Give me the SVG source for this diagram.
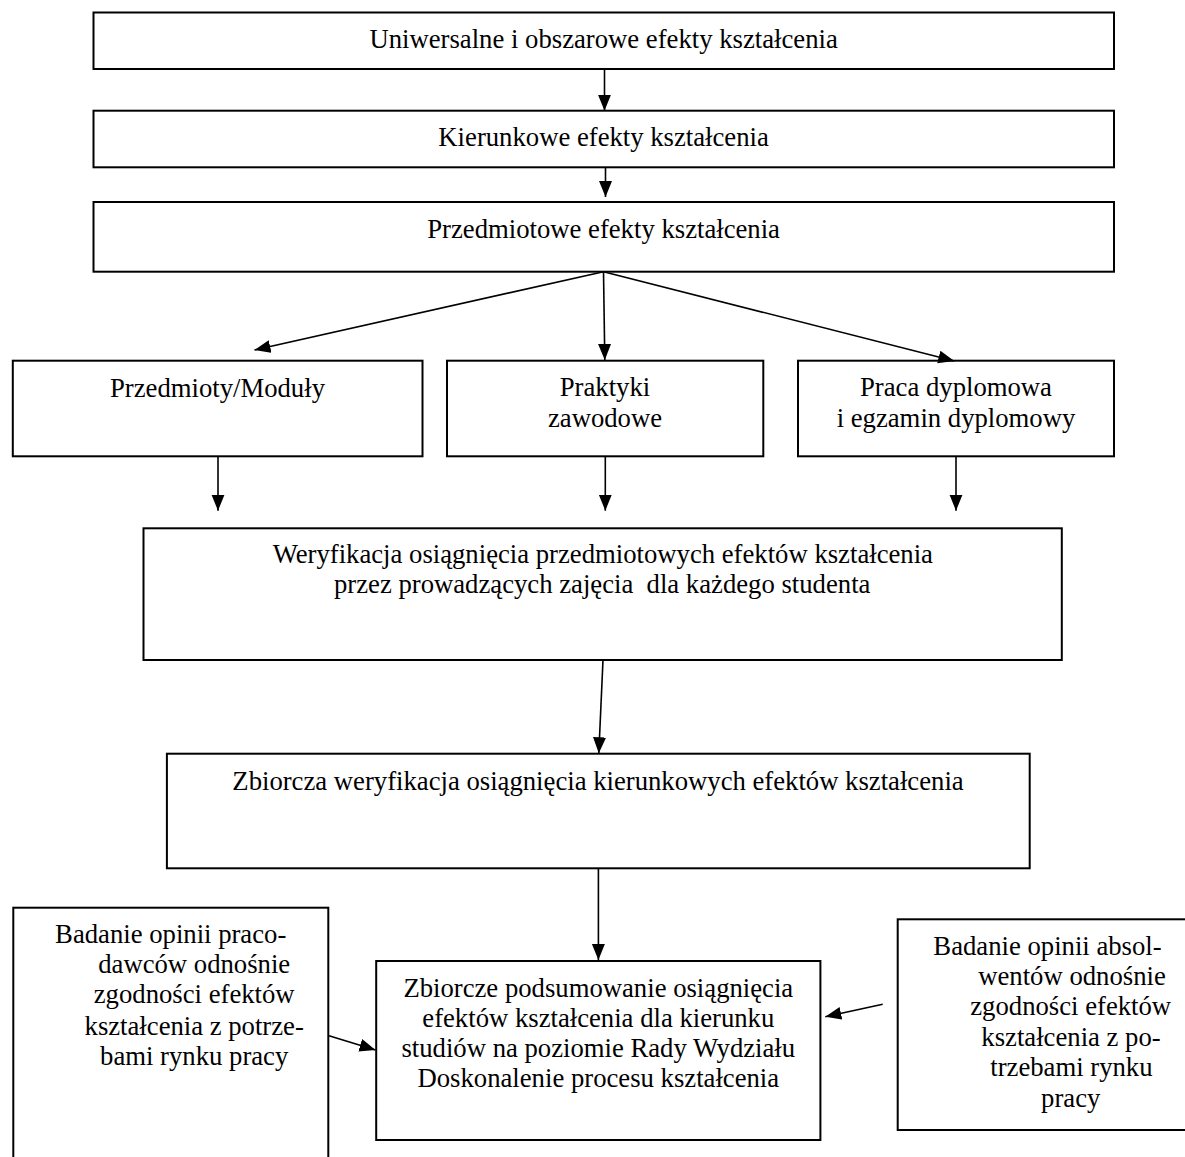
<svg xmlns="http://www.w3.org/2000/svg" width="1185" height="1157" viewBox="0 0 1185 1157">
<style>
.box{fill:#fff;stroke:#000;stroke-width:2}
.t{font-family:"Liberation Serif","Times New Roman",serif;font-size:26.7px;fill:#000;text-anchor:middle}
.c{stroke:#000;stroke-width:1.6;fill:none;marker-end:url(#ah)}
</style>
<defs>
<marker id="ah" markerUnits="userSpaceOnUse" markerWidth="18" markerHeight="14" refX="16" refY="6.5" orient="auto">
<path d="M0,0 L16,6.5 L0,13 z" fill="#000"/>
</marker>
</defs>
<rect width="1185" height="1157" fill="#fff"/>
<g id="n1"><rect class="box" x="93.5" y="12.5" width="1020.5" height="56.5"/><text class="t" x="603.6" y="48.3">Uniwersalne i obszarowe efekty kształcenia</text></g>
<g id="n2"><rect class="box" x="93.5" y="110.7" width="1020.5" height="56.6"/><text class="t" x="603.6" y="146">Kierunkowe efekty kształcenia</text></g>
<g id="n3"><rect class="box" x="93.5" y="202" width="1020.5" height="69.7"/><text class="t" x="603.6" y="238">Przedmiotowe efekty kształcenia</text></g>
<g id="n4"><rect class="box" x="12.8" y="360.7" width="409.7" height="95.6"/><text class="t" x="217.5" y="396.7">Przedmioty/Moduły</text></g>
<g id="n5"><rect class="box" x="447" y="360.7" width="316.3" height="95.6"/><text class="t" x="605" y="395.7">Praktyki</text><text class="t" x="605" y="426.7">zawodowe</text></g>
<g id="n6"><rect class="box" x="798" y="360.7" width="316" height="95.6"/><text class="t" x="956" y="395.7">Praca dyplomowa</text><text class="t" x="956" y="426.7">i egzamin dyplomowy</text></g>
<g id="n7"><rect class="box" x="143.5" y="528.3" width="918.3" height="131.7"/><text class="t" x="602.8" y="563.3">Weryfikacja osiągnięcia przedmiotowych efektów kształcenia</text><text class="t" x="602.2" y="593.3" xml:space="preserve">przez prowadzących zajęcia  dla każdego studenta</text></g>
<g id="n8"><rect class="box" x="166.9" y="753.7" width="862.8" height="114.6"/><text class="t" x="598" y="790">Zbiorcza weryfikacja osiągnięcia kierunkowych efektów kształcenia</text></g>
<g id="n9"><rect class="box" x="376.2" y="961" width="444.2" height="179"/><text class="t" x="598.3" y="996.7">Zbiorcze podsumowanie osiągnięcia</text><text class="t" x="598.3" y="1026.7">efektów kształcenia dla kierunku</text><text class="t" x="598.3" y="1056.7">studiów na poziomie Rady Wydziału</text><text class="t" x="598.3" y="1087.3">Doskonalenie procesu kształcenia</text></g>
<g id="n10"><rect class="box" x="13.3" y="907.7" width="315" height="260"/><text class="t" x="170.7" y="943.3">Badanie opinii praco-</text><text class="t" x="194.2" y="973.3">dawców odnośnie</text><text class="t" x="194.2" y="1003.3">zgodności efektów</text><text class="t" x="194.2" y="1035">kształcenia z potrze-</text><text class="t" x="194.2" y="1065">bami rynku pracy</text></g>
<g id="n11"><rect class="box" x="897.7" y="919.3" width="300" height="210.7"/><text class="t" x="1047.5" y="955">Badanie opinii absol-</text><text class="t" x="1072" y="985">wentów odnośnie</text><text class="t" x="1070.7" y="1015">zgodności efektów</text><text class="t" x="1071" y="1046">kształcenia z po-</text><text class="t" x="1071.4" y="1076">trzebami rynku</text><text class="t" x="1070.7" y="1106.7">pracy</text></g>
<g id="connectors">
<line class="c" x1="604.5" y1="69" x2="604.5" y2="110.7"/>
<line class="c" x1="605.5" y1="167.3" x2="605.5" y2="197"/>
<line class="c" x1="603.5" y1="271.7" x2="254.5" y2="350"/>
<line class="c" x1="603.5" y1="271.7" x2="604.8" y2="360"/>
<line class="c" x1="603.5" y1="271.7" x2="954.3" y2="361"/>
<line class="c" x1="218" y1="456.3" x2="218" y2="510.7"/>
<line class="c" x1="605.3" y1="456.3" x2="605.3" y2="510.7"/>
<line class="c" x1="956" y1="456.3" x2="956" y2="510.7"/>
<line class="c" x1="603" y1="660" x2="598.8" y2="753.3"/>
<line class="c" x1="598.4" y1="868.3" x2="598.4" y2="960"/>
<line class="c" x1="329" y1="1035.7" x2="375.5" y2="1050"/>
<line class="c" x1="882.7" y1="1004.3" x2="825.3" y2="1016.7"/>
</g>
</svg>
